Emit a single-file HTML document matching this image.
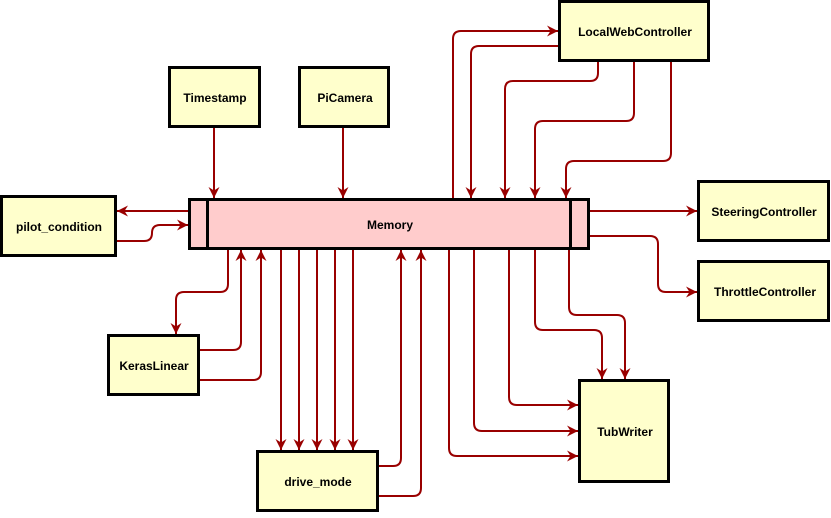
<!DOCTYPE html>
<html><head><meta charset="utf-8"><style>
body{margin:0;background:#fff}
text{font-family:"Liberation Sans",sans-serif;font-size:12px;font-weight:bold;fill:#000;text-anchor:middle;dominant-baseline:central}
</style></head><body>
<svg width="831" height="513" viewBox="0 0 831 513" xmlns="http://www.w3.org/2000/svg">
<defs><marker id="a" markerWidth="12" markerHeight="12" refX="11" refY="6" orient="auto" markerUnits="userSpaceOnUse"><path d="M0,0.5 L11,6 L0,11.5 L3.5,6 Z" fill="#990000"/></marker></defs>
<g fill="none" stroke="#990000" stroke-width="2" marker-end="url(#a)">
<path d="M214,127 V198"/>
<path d="M343,127 V198"/>
<path d="M189,211 H117"/>
<path d="M116,241 H144 Q152,241 152,233 V233 Q152,225 160,225 H188"/>
<path d="M589,211 H697"/>
<path d="M589,236 H650 Q658,236 658,244 V284 Q658,292 666,292 H697"/>
<path d="M453,199 V39 Q453,31 461,31 H558"/>
<path d="M559,46 H479 Q471,46 471,54 V198"/>
<path d="M598,61 V73 Q598,81 590,81 H513 Q505,81 505,89 V198"/>
<path d="M634,61 V113 Q634,121 626,121 H543 Q535,121 535,129 V198"/>
<path d="M671,61 V153 Q671,161 663,161 H574 Q566,161 566,169 V198"/>
<path d="M228,249 V284 Q228,292 220,292 H184 Q176,292 176,300 V334"/>
<path d="M199,350 H233 Q241,350 241,342 V250"/>
<path d="M199,380 H253 Q261,380 261,372 V250"/>
<path d="M281,249 V450"/><path d="M299,249 V450"/><path d="M317,249 V450"/><path d="M335,249 V450"/><path d="M353,249 V450"/>
<path d="M378,466 H393 Q401,466 401,458 V250"/>
<path d="M378,496 H413 Q421,496 421,488 V250"/>
<path d="M449,249 V448 Q449,456 457,456 H578"/>
<path d="M474,249 V423 Q474,431 482,431 H578"/>
<path d="M509,249 V397 Q509,405 517,405 H578"/>
<path d="M535,249 V322 Q535,330 543,330 H594 Q602,330 602,338 V379"/>
<path d="M569,249 V307 Q569,315 577,315 H617 Q625,315 625,323 V379"/>
</g>
<g stroke="#000" stroke-width="3" fill="#ffffcc">
<rect x="559.5" y="1.5" width="149" height="59"/>
<rect x="169.5" y="67.5" width="90" height="59"/>
<rect x="299.5" y="67.5" width="89" height="59"/>
<rect x="1.5" y="196.5" width="114" height="59"/>
<rect x="698.5" y="181.5" width="130" height="59"/>
<rect x="698.5" y="261.5" width="130" height="59"/>
<rect x="108.5" y="335.5" width="90" height="59"/>
<rect x="257.5" y="451.5" width="120" height="59"/>
<rect x="579.5" y="380.5" width="89" height="101"/>
<rect x="189.5" y="199.5" width="399" height="49" fill="#ffcccc"/>
<path d="M207.5,199.5 V248.5 M570.5,199.5 V248.5" fill="none"/>
</g>
<text x="635" y="32">LocalWebController</text>
<text x="215" y="98">Timestamp</text>
<text x="345" y="98">PiCamera</text>
<text x="59" y="227">pilot_condition</text>
<text x="390" y="225">Memory</text>
<text x="764" y="212">SteeringController</text>
<text x="765" y="292">ThrottleController</text>
<text x="154" y="366">KerasLinear</text>
<text x="318" y="482">drive_mode</text>
<text x="625" y="432">TubWriter</text>
</svg>
</body></html>
